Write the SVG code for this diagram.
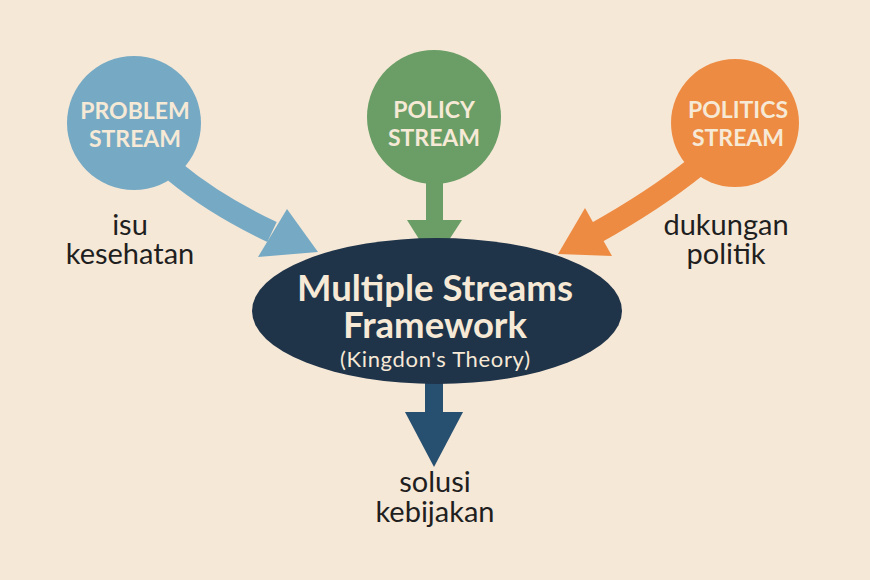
<svg xmlns="http://www.w3.org/2000/svg" width="870" height="580" viewBox="0 0 870 580">
<style>
.ct{font-family:Lato,"Open Sans","Liberation Sans",sans-serif;font-weight:700;font-size:23px;fill:#f6e9d6;text-anchor:middle}
.lbl{font-family:Lato,"Open Sans","Liberation Sans",sans-serif;font-size:29px;fill:#1f1f1f;text-anchor:middle}
.t1{font-family:Lato,"Open Sans","Liberation Sans",sans-serif;font-weight:700;font-size:37px;fill:#f6e9d6;text-anchor:middle}
.t2{font-family:Lato,"Open Sans","Liberation Sans",sans-serif;font-size:22px;fill:#f6e9d6;text-anchor:middle}
</style>
<rect width="870" height="580" fill="#f6e8d7"/>
<g id="connectors">
  <path d="M175,172 Q215,205 272,232" fill="none" stroke="#76aac4" stroke-width="22"/>
  <polygon points="287,209 318,252 258,257" fill="#76aac4"/>
  <rect x="426" y="180" width="17" height="42" fill="#6a9e66"/>
  <polygon points="407,220 462,220 434,263" fill="#6a9e66"/>
  <path d="M697,166 Q655,200 594,234" fill="none" stroke="#ee8b43" stroke-width="22"/>
  <polygon points="585,208 612,256 558,254" fill="#ee8b43"/>
  <rect x="425" y="378" width="18" height="36" fill="#264f70"/>
  <polygon points="405,412 463,412 434,467" fill="#264f70"/>
</g>
<g id="problem">
  <circle cx="134" cy="123" r="67" fill="#76aac4"/>
  <text class="ct" x="135" y="119">PROBLEM</text>
  <text class="ct" x="135" y="147">STREAM</text>
</g>
<g id="policy">
  <circle cx="434" cy="117" r="67" fill="#6a9e66"/>
  <text class="ct" x="434" y="118">POLICY</text>
  <text class="ct" x="434" y="146">STREAM</text>
</g>
<g id="politics">
  <circle cx="735" cy="123" r="64" fill="#ee8b43"/>
  <text class="ct" x="738" y="118">POLITICS</text>
  <text class="ct" x="738" y="146">STREAM</text>
</g>
<g id="framework">
  <ellipse cx="437" cy="311" rx="185" ry="73" fill="#1f3349"/>
  <text class="t1" x="435" y="301" textLength="276" lengthAdjust="spacingAndGlyphs">Multiple Streams</text>
  <text class="t1" x="435" y="338" textLength="184" lengthAdjust="spacingAndGlyphs">Framework</text>
  <text class="t2" x="435" y="367" textLength="190">(Kingdon's Theory)</text>
</g>
<g id="label-problem">
  <text class="lbl" x="130" y="235">isu</text>
  <text class="lbl" x="130" y="264">kesehatan</text>
</g>
<g id="label-politics">
  <text class="lbl" x="726" y="235">dukungan</text>
  <text class="lbl" x="726" y="264">politik</text>
</g>
<g id="label-solution">
  <text class="lbl" x="435" y="492">solusi</text>
  <text class="lbl" x="435" y="522">kebijakan</text>
</g>
</svg>
